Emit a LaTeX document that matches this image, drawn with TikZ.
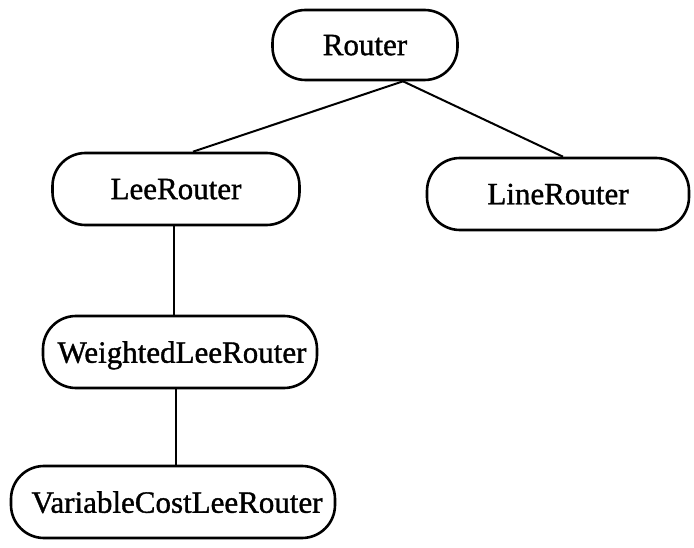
\documentclass[tikz,border=0pt]{standalone}
\usepackage{fontspec}
\setmainfont{Liberation Serif}[FakeBold=1.2]
\usetikzlibrary{calc}
\tikzset{
  cls/.style={draw, line width=2.6pt, rounded corners=33pt, inner sep=0pt,
    font=\fontsize{31}{34}\selectfont, text depth=0pt},
  link/.style={line width=2pt},
  thinlink/.style={line width=1.1pt}
}
\begin{document}
\begin{tikzpicture}[x=1pt,y=-1pt]
  \useasboundingbox (0,0) rectangle (694,548);
  \node[cls, minimum width=185pt, minimum height=70pt] (router) at (365,45) {Router};
  \node[cls, minimum width=247pt, minimum height=72pt] (lee) at (176,189) {LeeRouter};
  \node[cls, minimum width=262pt, minimum height=72pt] (line) at (558,194) {LineRouter};
  \node[cls, minimum width=274pt, minimum height=72pt] (weighted) at (180,352) {\hspace*{4pt}WeightedLeeRouter};
  \node[cls, minimum width=324pt, minimum height=72pt] (variable) at (173,502) {\hspace*{8pt}VariableCostLeeRouter};
  \draw[link] ($(router.south)+(38,0)$) -- ($(lee.north)+(17,0)$);
  \draw[link] ($(router.south)+(38,0)$) -- ($(line.north)+(5,0)$);
  \draw[thinlink] ($(lee.south)+(-2,0)$) -- ($(weighted.north)+(-6,0)$);
  \draw[thinlink] ($(weighted.south)+(-4,0)$) -- ($(variable.north)+(3,0)$);
\end{tikzpicture}
\end{document}
